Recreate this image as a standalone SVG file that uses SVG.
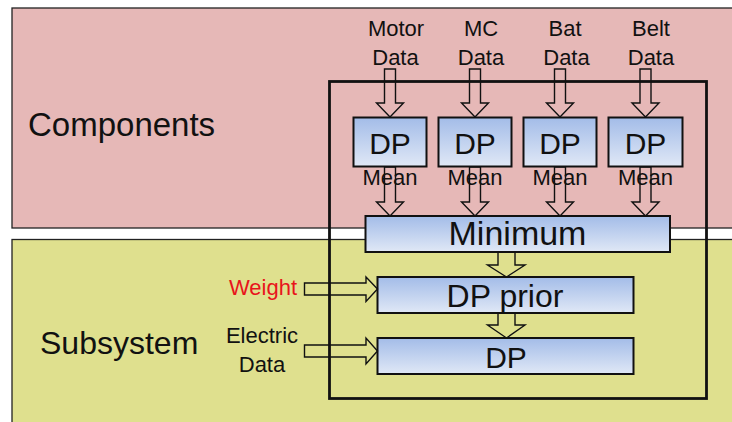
<svg xmlns="http://www.w3.org/2000/svg" width="732" height="422" viewBox="0 0 732 422">
<defs>
<linearGradient id="g" x1="0" y1="0" x2="0" y2="1">
<stop offset="0" stop-color="#a3bce8"/>
<stop offset="1" stop-color="#e0e8f6"/>
</linearGradient>
<style>
text{font-family:"Liberation Sans",Arial,sans-serif;fill:#111}
.sm{font-size:22px;text-anchor:middle}
.big{font-size:33px}
.box{fill:url(#g);stroke:#111;stroke-width:2}
.arr{fill:none;stroke:#111;stroke-width:1.4;stroke-linejoin:miter}
</style>
</defs>
<rect width="732" height="422" fill="#fff"/>
<g id="components">
<rect x="12" y="8" width="730" height="220" fill="#e6b8b7" stroke="#222" stroke-width="1.3"/>
<text class="big" x="28" y="136">Components</text>
</g>
<g id="subsystem">
<rect x="12" y="239.5" width="730" height="200" fill="#dfe08e" stroke="#222" stroke-width="1.3"/>
<text x="40" y="354" style="font-size:32px">Subsystem</text>
</g>
<g id="container">
<rect x="329.5" y="81.5" width="377" height="317" fill="none" stroke="#111" stroke-width="2.8"/>
</g>
<g id="labels">
<text class="sm" x="396" y="36">Motor</text>
<text class="sm" x="395.5" y="65">Data</text>
<text class="sm" x="481" y="36">MC</text>
<text class="sm" x="481" y="65">Data</text>
<text class="sm" x="565" y="36">Bat</text>
<text class="sm" x="566.5" y="65">Data</text>
<text class="sm" x="651" y="36">Belt</text>
<text class="sm" x="651" y="65">Data</text>
<text x="297" y="294.5" style="font-size:22px;text-anchor:end;fill:#e8141b">Weight</text>
<text class="sm" x="262" y="343">Electric</text>
<text class="sm" x="262" y="371.5">Data</text>
</g>
<g id="dp1"><rect class="box" x="353.5" y="117.5" width="73" height="49"/><text x="390" y="153.5" style="font-size:30px;text-anchor:middle">DP</text><text class="sm" x="390" y="185">Mean</text></g>
<g id="dp2"><rect class="box" x="438.5" y="117.5" width="73" height="49"/><text x="475" y="153.5" style="font-size:30px;text-anchor:middle">DP</text><text class="sm" x="475" y="185">Mean</text></g>
<g id="dp3"><rect class="box" x="523.5" y="117.5" width="73" height="49"/><text x="560" y="153.5" style="font-size:30px;text-anchor:middle">DP</text><text class="sm" x="560" y="185">Mean</text></g>
<g id="dp4"><rect class="box" x="608.5" y="117.5" width="74" height="49"/><text x="645.5" y="153.5" style="font-size:30px;text-anchor:middle">DP</text><text class="sm" x="645.5" y="185">Mean</text></g>
<g id="minimum"><rect class="box" x="365.5" y="216" width="304.5" height="36"/><text x="517.5" y="245" style="font-size:34px;text-anchor:middle">Minimum</text></g>
<g id="dpprior"><rect class="box" x="377.5" y="277" width="256" height="36"/><text x="505" y="306.5" style="font-size:32px;text-anchor:middle">DP prior</text></g>
<g id="dp"><rect class="box" x="377.5" y="338" width="256" height="36"/><text x="506" y="367.5" style="font-size:30px;text-anchor:middle">DP</text></g>
<g id="connectors">
<path class="arr" d="M384.5,69H395.5V103H403.5L390,117L376.5,103H384.5Z"/>
<path class="arr" d="M469.5,69H480.5V103H488.5L475,117L461.5,103H469.5Z"/>
<path class="arr" d="M554.5,69H565.5V103H573.5L560,117L546.5,103H554.5Z"/>
<path class="arr" d="M640,69H651V103H659L645.5,117L632,103H640Z"/>
<path class="arr" d="M384.5,167H395.5V202H403.5L390,216L376.5,202H384.5Z"/>
<path class="arr" d="M469.5,167H480.5V202H488.5L475,216L461.5,202H469.5Z"/>
<path class="arr" d="M554.5,167H565.5V202H573.5L560,216L546.5,202H554.5Z"/>
<path class="arr" d="M640,167H651V202H659L645.5,216L632,202H640Z"/>
<path class="arr" d="M498,252H515V265H525L506.5,277L487.5,265H498Z"/>
<path class="arr" d="M498,313H515V325H525L506.5,338L487.5,325H498Z"/>
<path class="arr" d="M304.5,283H366V277L377.5,289L366,301.5V295H304.5Z"/>
<path class="arr" d="M304.5,345H366V338L377.5,351L366,364V357H304.5Z"/>
</g>
</svg>
